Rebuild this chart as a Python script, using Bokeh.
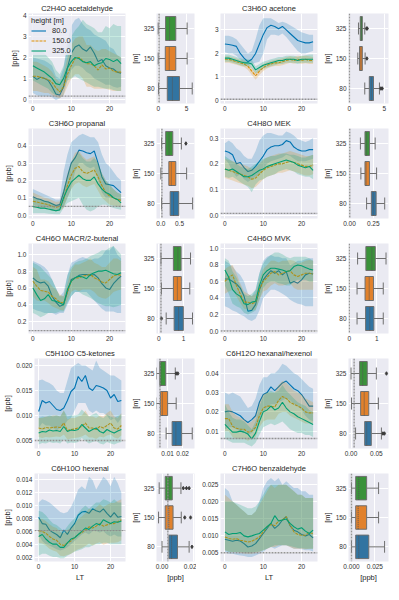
from bokeh.plotting import figure
from bokeh.layouts import column, row
from bokeh.models import Range1d, FixedTicker, Span, Legend, LegendItem, PrintfTickFormatter
from bokeh.embed import file_html
from bokeh.resources import INLINE

# ---------------- data ----------------
hours = list(range(24))
height_labels = ["80.0", "150.0", "325.0"]
box_categories = ["80", "150", "325"]

titles = ["C2H4O acetaldehyde", "C3H6O acetone", "C3H6O propanal", "C4H8O MEK",
          "C4H6O MACR/2-butenal", "C4H6O MVK", "C5H10O C5-ketones", "C6H12O hexanal/hexenol",
          "C6H10O hexenal", "C7H6O benzaldehyde"]

# C2H4O acetaldehyde
acetaldehyde_80 = [1.10,0.95,1.05,1.00,0.90,0.60,0.25,0.20,0.60,1.50,2.20,2.50,2.60,2.40,2.30,2.50,2.20,1.80,1.90,1.60,1.50,1.45,1.30,1.25]
acetaldehyde_80_lo = [0.30,0.20,0.15,0.15,0.15,0.10,-0.05,0.05,0.20,0.90,1.40,1.60,1.60,1.50,1.30,1.20,1.00,0.90,0.80,0.70,0.70,0.60,0.55,0.60]
acetaldehyde_80_hi = [2.00,1.95,1.90,1.85,1.75,1.60,1.10,1.00,1.50,2.80,3.50,3.80,3.90,3.60,3.40,3.30,3.10,3.00,2.90,2.80,2.50,2.40,2.10,2.00]
acetaldehyde_150 = [1.10,1.10,1.05,1.00,0.95,0.80,0.55,0.35,0.60,1.20,1.60,1.95,2.00,1.85,1.70,1.70,1.60,1.40,1.65,1.45,1.50,1.35,1.30,1.30]
acetaldehyde_150_lo = [0.40,0.40,0.35,0.30,0.30,0.20,0.10,0.05,0.20,0.60,1.00,1.20,1.20,1.00,0.60,0.60,0.50,0.50,0.50,0.50,0.45,0.40,0.40,0.40]
acetaldehyde_150_hi = [1.80,1.80,1.70,1.60,1.50,1.30,1.00,0.80,1.20,2.00,2.60,2.90,3.00,3.00,2.60,2.60,2.40,2.30,2.40,2.40,2.30,2.20,2.10,2.00]
acetaldehyde_325 = [1.60,1.50,1.40,1.30,1.15,1.00,0.75,0.70,1.00,1.50,1.80,2.00,1.95,1.80,1.75,1.80,1.60,1.70,1.75,1.95,1.90,1.80,1.90,1.70]
acetaldehyde_325_lo = [0.90,0.80,0.70,0.60,0.50,0.30,0.20,0.30,0.50,0.90,1.00,1.10,1.00,0.90,0.80,0.70,0.60,0.60,0.55,0.50,0.50,0.45,0.40,0.40]
acetaldehyde_325_hi = [2.30,2.30,2.30,2.20,2.00,1.80,1.40,1.20,1.60,2.40,3.00,3.30,3.50,3.80,3.60,3.50,3.40,3.20,3.20,3.50,3.40,3.60,3.50,3.50]

# C3H6O acetone
acetone_80 = [2.40,2.38,2.35,2.30,2.00,1.80,1.65,1.75,2.00,2.40,2.80,3.10,3.20,3.15,3.05,3.15,3.00,2.85,2.70,2.55,2.50,2.45,2.45,2.50]
acetone_80_lo = [2.05,2.00,2.00,1.90,1.75,1.60,1.50,1.55,1.60,1.65,2.00,2.60,2.80,2.80,2.75,2.85,2.70,2.50,2.30,2.10,2.00,2.00,2.05,2.10]
acetone_80_hi = [2.75,2.75,2.70,2.60,2.40,2.20,2.00,2.10,2.60,3.20,3.50,3.50,3.50,3.40,3.30,3.35,3.30,3.20,3.10,3.00,2.90,2.85,2.80,2.80]
acetone_150 = [1.75,1.75,1.70,1.65,1.60,1.55,1.45,1.25,1.05,1.25,1.40,1.50,1.55,1.60,1.60,1.65,1.70,1.75,1.70,1.75,1.70,1.75,1.70,1.70]
acetone_150_lo = [1.60,1.60,1.56,1.52,1.47,1.42,1.30,1.08,0.88,1.08,1.25,1.36,1.42,1.47,1.47,1.50,1.55,1.60,1.56,1.60,1.55,1.58,1.55,1.55]
acetone_150_hi = [1.88,1.88,1.83,1.78,1.73,1.68,1.58,1.40,1.22,1.40,1.55,1.63,1.68,1.73,1.75,1.80,1.83,1.88,1.85,1.90,1.88,1.90,1.88,1.85]
acetone_325 = [1.80,1.80,1.75,1.70,1.65,1.60,1.60,1.55,1.30,1.40,1.50,1.55,1.60,1.65,1.70,1.70,1.75,1.75,1.75,1.70,1.75,1.75,1.75,1.75]
acetone_325_lo = [1.65,1.65,1.60,1.55,1.50,1.45,1.45,1.38,1.15,1.25,1.35,1.40,1.45,1.50,1.55,1.55,1.60,1.60,1.60,1.55,1.60,1.60,1.60,1.60]
acetone_325_hi = [1.95,1.95,1.90,1.85,1.80,1.75,1.75,1.72,1.45,1.55,1.65,1.70,1.75,1.80,1.85,1.85,1.90,1.90,1.90,1.85,1.90,1.92,1.95,1.95]

# C3H6O propanal
propanal_80 = [0.105,0.095,0.090,0.080,0.075,0.065,0.055,0.060,0.130,0.220,0.300,0.330,0.375,0.370,0.360,0.355,0.370,0.300,0.220,0.180,0.175,0.170,0.150,0.130]
propanal_80_lo = [0.060,0.055,0.050,0.045,0.040,0.030,0.020,0.030,0.050,0.100,0.150,0.250,0.300,0.300,0.280,0.270,0.280,0.200,0.130,0.100,0.100,0.100,0.090,0.080]
propanal_80_hi = [0.150,0.140,0.130,0.120,0.110,0.100,0.090,0.090,0.250,0.350,0.420,0.440,0.460,0.470,0.460,0.450,0.450,0.420,0.350,0.300,0.280,0.250,0.220,0.200]
propanal_150 = [0.080,0.075,0.070,0.065,0.060,0.050,0.045,0.050,0.090,0.170,0.230,0.270,0.280,0.250,0.240,0.250,0.260,0.220,0.170,0.130,0.110,0.100,0.090,0.085]
propanal_150_lo = [0.040,0.040,0.035,0.035,0.030,0.025,0.020,0.025,0.040,0.100,0.150,0.180,0.190,0.170,0.160,0.170,0.180,0.140,0.100,0.080,0.060,0.055,0.050,0.050]
propanal_150_hi = [0.130,0.120,0.110,0.100,0.095,0.085,0.075,0.080,0.150,0.240,0.310,0.360,0.370,0.340,0.320,0.330,0.340,0.300,0.240,0.200,0.170,0.150,0.130,0.120]
propanal_325 = [0.050,0.045,0.040,0.040,0.035,0.030,0.025,0.030,0.100,0.150,0.190,0.210,0.230,0.210,0.200,0.200,0.220,0.180,0.150,0.130,0.120,0.100,0.090,0.070]
propanal_325_lo = [0.010,0.010,0.010,0.010,0.008,0.006,0.005,0.005,0.040,0.070,0.080,0.090,0.100,0.060,0.030,0.020,0.030,0.050,0.060,0.060,0.050,0.040,0.035,0.030]
propanal_325_hi = [0.100,0.095,0.090,0.085,0.080,0.070,0.060,0.060,0.150,0.220,0.300,0.340,0.360,0.330,0.310,0.310,0.330,0.300,0.240,0.200,0.180,0.150,0.130,0.120]

# C4H8O MEK
mek_80 = [0.250,0.245,0.235,0.200,0.205,0.185,0.170,0.175,0.190,0.210,0.230,0.255,0.265,0.270,0.270,0.275,0.290,0.285,0.265,0.255,0.250,0.250,0.255,0.255]
mek_80_lo = [0.220,0.200,0.170,0.150,0.160,0.140,0.130,0.140,0.150,0.160,0.180,0.200,0.210,0.215,0.220,0.225,0.235,0.230,0.220,0.210,0.210,0.210,0.215,0.220]
mek_80_hi = [0.280,0.290,0.280,0.260,0.250,0.230,0.220,0.220,0.250,0.290,0.310,0.320,0.320,0.315,0.310,0.310,0.325,0.320,0.310,0.295,0.290,0.285,0.290,0.300]
mek_150 = [0.180,0.175,0.170,0.165,0.160,0.155,0.150,0.140,0.145,0.160,0.175,0.185,0.190,0.195,0.200,0.200,0.205,0.210,0.205,0.200,0.195,0.190,0.190,0.195]
mek_150_lo = [0.145,0.140,0.135,0.130,0.125,0.120,0.115,0.105,0.110,0.125,0.140,0.150,0.155,0.160,0.165,0.165,0.170,0.175,0.170,0.165,0.160,0.155,0.155,0.160]
mek_150_hi = [0.220,0.215,0.210,0.205,0.200,0.195,0.190,0.180,0.185,0.200,0.215,0.225,0.230,0.235,0.240,0.240,0.245,0.250,0.245,0.240,0.235,0.230,0.230,0.235]
mek_325 = [0.180,0.175,0.180,0.170,0.160,0.150,0.150,0.155,0.165,0.175,0.180,0.190,0.195,0.200,0.205,0.210,0.215,0.210,0.205,0.195,0.190,0.185,0.190,0.175]
mek_325_lo = [0.150,0.145,0.150,0.140,0.130,0.120,0.110,0.090,0.120,0.135,0.140,0.150,0.155,0.160,0.170,0.175,0.180,0.175,0.170,0.160,0.155,0.150,0.150,0.140]
mek_325_hi = [0.230,0.220,0.210,0.200,0.190,0.185,0.180,0.190,0.200,0.210,0.220,0.225,0.230,0.230,0.235,0.240,0.240,0.235,0.235,0.230,0.225,0.225,0.230,0.235]

# C4H6O MACR/2-butenal
macr_80 = [0.72,0.68,0.66,0.67,0.62,0.50,0.43,0.38,0.40,0.55,0.70,0.72,0.75,0.76,0.76,0.75,0.76,0.72,0.65,0.60,0.58,0.65,0.70,0.74]
macr_80_lo = [0.35,0.33,0.32,0.30,0.30,0.30,0.28,0.30,0.30,0.40,0.50,0.55,0.55,0.55,0.55,0.50,0.45,0.40,0.35,0.32,0.32,0.32,0.30,0.30]
macr_80_hi = [0.92,0.90,0.88,0.85,0.80,0.70,0.60,0.50,0.55,0.75,0.90,0.92,0.95,0.97,0.95,0.93,0.95,0.95,0.98,1.05,1.05,1.10,1.00,0.95]
macr_150 = [0.68,0.62,0.57,0.56,0.55,0.50,0.47,0.43,0.42,0.55,0.68,0.72,0.72,0.74,0.75,0.76,0.72,0.70,0.67,0.66,0.70,0.74,0.76,0.75]
macr_150_lo = [0.50,0.45,0.44,0.45,0.42,0.38,0.36,0.34,0.33,0.45,0.55,0.58,0.56,0.58,0.58,0.58,0.55,0.50,0.48,0.47,0.50,0.55,0.57,0.58]
macr_150_hi = [0.85,0.82,0.70,0.70,0.68,0.62,0.58,0.52,0.50,0.65,0.82,0.88,0.88,0.90,0.92,0.95,0.90,0.88,0.85,0.85,0.90,0.95,0.95,0.92]
macr_325 = [0.60,0.52,0.45,0.47,0.52,0.45,0.44,0.42,0.40,0.58,0.68,0.72,0.74,0.73,0.71,0.76,0.78,0.80,0.80,0.81,0.79,0.77,0.76,0.78]
macr_325_lo = [0.30,0.28,0.25,0.27,0.30,0.30,0.30,0.32,0.32,0.42,0.50,0.55,0.55,0.52,0.50,0.48,0.45,0.42,0.40,0.38,0.38,0.37,0.38,0.40]
macr_325_hi = [0.90,0.88,0.85,0.80,0.75,0.70,0.60,0.50,0.50,0.75,0.85,0.90,0.92,0.93,0.95,0.98,1.00,1.02,1.05,1.05,1.08,1.10,1.05,1.00]

# C4H6O MVK
mvk_80 = [0.63,0.63,0.60,0.57,0.52,0.42,0.24,0.25,0.32,0.50,0.62,0.68,0.73,0.70,0.73,0.68,0.72,0.58,0.60,0.58,0.62,0.68,0.70,0.69]
mvk_80_lo = [0.30,0.28,0.25,0.23,0.20,0.18,0.14,0.12,0.15,0.25,0.40,0.45,0.50,0.50,0.48,0.45,0.42,0.38,0.35,0.33,0.32,0.30,0.30,0.30]
mvk_80_hi = [0.85,0.82,0.78,0.72,0.68,0.60,0.45,0.42,0.50,0.70,0.85,0.90,0.92,0.90,0.90,0.88,0.88,0.80,0.82,0.85,0.85,0.87,0.88,0.88]
mvk_150 = [0.60,0.65,0.68,0.55,0.45,0.35,0.35,0.33,0.35,0.50,0.60,0.65,0.70,0.72,0.68,0.70,0.72,0.73,0.68,0.66,0.68,0.70,0.70,0.69]
mvk_150_lo = [0.45,0.48,0.50,0.42,0.34,0.27,0.26,0.25,0.26,0.38,0.48,0.50,0.55,0.58,0.55,0.55,0.56,0.58,0.52,0.50,0.50,0.50,0.50,0.50]
mvk_150_hi = [0.75,0.78,0.80,0.70,0.58,0.48,0.45,0.42,0.45,0.62,0.75,0.80,0.85,0.85,0.83,0.85,0.85,0.86,0.85,0.82,0.83,0.85,0.86,0.85]
mvk_325 = [0.74,0.65,0.50,0.45,0.42,0.33,0.32,0.35,0.36,0.55,0.68,0.73,0.76,0.76,0.75,0.74,0.72,0.73,0.78,0.80,0.79,0.77,0.75,0.74]
mvk_325_lo = [0.55,0.45,0.33,0.30,0.28,0.22,0.20,0.22,0.25,0.38,0.52,0.58,0.60,0.60,0.58,0.57,0.55,0.55,0.60,0.62,0.62,0.62,0.60,0.60]
mvk_325_hi = [0.88,0.85,0.72,0.65,0.55,0.45,0.42,0.45,0.50,0.70,0.82,0.88,0.92,0.95,0.95,0.93,0.90,0.88,0.90,0.90,0.90,0.90,0.88,0.85]

# C5H10O C5-ketones
c5k_80 = [0.0108,0.0130,0.0125,0.0128,0.0120,0.0112,0.0110,0.0115,0.0130,0.0148,0.0155,0.0178,0.0168,0.0180,0.0155,0.0150,0.0160,0.0158,0.0155,0.0150,0.0135,0.0142,0.0128,0.0130]
c5k_80_lo = [0.0075,0.0085,0.0080,0.0080,0.0075,0.0070,0.0075,0.0078,0.0090,0.0095,0.0110,0.0125,0.0125,0.0125,0.0110,0.0105,0.0110,0.0105,0.0105,0.0100,0.0090,0.0095,0.0085,0.0095]
c5k_80_hi = [0.0170,0.0172,0.0168,0.0165,0.0160,0.0150,0.0145,0.0145,0.0170,0.0195,0.0200,0.0205,0.0200,0.0200,0.0195,0.0190,0.0210,0.0195,0.0190,0.0185,0.0180,0.0180,0.0175,0.0170]
c5k_150 = [0.0075,0.0073,0.0076,0.0075,0.0076,0.0077,0.0076,0.0085,0.0070,0.0072,0.0073,0.0075,0.0078,0.0085,0.0075,0.0075,0.0072,0.0078,0.0075,0.0080,0.0085,0.0075,0.0073,0.0080]
c5k_150_lo = [0.0057,0.0055,0.0057,0.0056,0.0057,0.0058,0.0057,0.0062,0.0052,0.0054,0.0055,0.0056,0.0058,0.0062,0.0056,0.0056,0.0053,0.0058,0.0056,0.0060,0.0062,0.0056,0.0054,0.0060]
c5k_150_hi = [0.0095,0.0095,0.0098,0.0098,0.0100,0.0100,0.0098,0.0110,0.0092,0.0095,0.0095,0.0098,0.0100,0.0110,0.0098,0.0098,0.0095,0.0100,0.0098,0.0105,0.0110,0.0098,0.0095,0.0105]
c5k_325 = [0.0065,0.0068,0.0067,0.0071,0.0069,0.0070,0.0068,0.0078,0.0068,0.0071,0.0070,0.0072,0.0082,0.0075,0.0068,0.0072,0.0075,0.0068,0.0065,0.0072,0.0068,0.0065,0.0069,0.0072]
c5k_325_lo = [0.0042,0.0045,0.0044,0.0047,0.0045,0.0046,0.0044,0.0052,0.0044,0.0046,0.0045,0.0047,0.0055,0.0049,0.0044,0.0047,0.0049,0.0044,0.0042,0.0047,0.0044,0.0042,0.0045,0.0047]
c5k_325_hi = [0.0095,0.0098,0.0097,0.0100,0.0098,0.0100,0.0098,0.0110,0.0098,0.0100,0.0100,0.0102,0.0112,0.0105,0.0098,0.0102,0.0105,0.0098,0.0095,0.0102,0.0098,0.0095,0.0099,0.0102]

# C6H12O hexanal/hexenol
hexanal_80 = [0.0200,0.0205,0.0200,0.0190,0.0180,0.0160,0.0145,0.0160,0.0180,0.0250,0.0290,0.0300,0.0330,0.0310,0.0330,0.0350,0.0360,0.0340,0.0320,0.0310,0.0290,0.0260,0.0230,0.0230]
hexanal_80_lo = [0.011,0.012,0.012,0.011,0.010,0.009,0.008,0.009,0.011,0.016,0.020,0.022,0.024,0.024,0.025,0.026,0.027,0.026,0.024,0.023,0.021,0.018,0.016,0.015]
hexanal_80_hi = [0.030,0.029,0.030,0.029,0.028,0.025,0.022,0.023,0.027,0.034,0.038,0.038,0.040,0.040,0.042,0.045,0.044,0.042,0.040,0.039,0.037,0.035,0.033,0.032]
hexanal_150 = [0.0165,0.0165,0.0125,0.0115,0.0110,0.0110,0.0095,0.0100,0.0120,0.0180,0.0220,0.0230,0.0230,0.0225,0.0260,0.0280,0.0270,0.0250,0.0240,0.0230,0.0220,0.0200,0.0195,0.0195]
hexanal_150_lo = [0.010,0.010,0.007,0.006,0.006,0.006,0.005,0.006,0.007,0.012,0.015,0.016,0.016,0.016,0.019,0.020,0.020,0.018,0.017,0.016,0.015,0.014,0.014,0.014]
hexanal_150_hi = [0.024,0.024,0.020,0.018,0.017,0.016,0.014,0.015,0.018,0.025,0.029,0.030,0.030,0.030,0.034,0.036,0.035,0.033,0.031,0.030,0.029,0.027,0.026,0.025]
hexanal_325 = [0.0135,0.0115,0.0095,0.0095,0.0100,0.0095,0.0085,0.0060,0.0090,0.0150,0.0200,0.0210,0.0230,0.0210,0.0220,0.0250,0.0220,0.0200,0.0190,0.0175,0.0165,0.0155,0.0145,0.0135]
hexanal_325_lo = [0.006,0.005,0.004,0.004,0.004,0.004,0.003,0.002,0.004,0.008,0.012,0.013,0.014,0.013,0.014,0.015,0.013,0.011,0.010,0.009,0.009,0.008,0.008,0.007]
hexanal_325_hi = [0.024,0.020,0.017,0.016,0.016,0.015,0.013,0.011,0.015,0.023,0.028,0.030,0.031,0.030,0.031,0.034,0.031,0.029,0.027,0.025,0.024,0.023,0.021,0.020]

# C6H10O hexenal
hexenal_80 = [0.0082,0.0072,0.0071,0.0062,0.0058,0.0055,0.0050,0.0062,0.0055,0.0065,0.0072,0.0085,0.0090,0.0091,0.0088,0.0095,0.0092,0.0090,0.0095,0.0088,0.0082,0.0089,0.0082,0.0083]
hexenal_80_lo = [0.0055,0.0045,0.0040,0.0038,0.0035,0.0032,0.0030,0.0032,0.0035,0.0040,0.0045,0.0050,0.0055,0.0058,0.0055,0.0060,0.0060,0.0058,0.0060,0.0055,0.0052,0.0055,0.0052,0.0052]
hexenal_80_hi = [0.0105,0.0110,0.0108,0.0105,0.0100,0.0095,0.0090,0.0088,0.0090,0.0098,0.0110,0.0125,0.0130,0.0125,0.0145,0.0140,0.0125,0.0135,0.0145,0.0140,0.0130,0.0145,0.0135,0.0120]
hexenal_150 = [0.0061,0.0060,0.0057,0.0052,0.0048,0.0046,0.0040,0.0038,0.0042,0.0045,0.0050,0.0055,0.0058,0.0062,0.0067,0.0065,0.0068,0.0072,0.0068,0.0070,0.0072,0.0072,0.0075,0.0078]
hexenal_150_lo = [0.0042,0.0041,0.0038,0.0033,0.0030,0.0028,0.0022,0.0021,0.0023,0.0025,0.0029,0.0032,0.0034,0.0037,0.0041,0.0038,0.0041,0.0043,0.0039,0.0041,0.0042,0.0042,0.0043,0.0046]
hexenal_150_hi = [0.0080,0.0079,0.0076,0.0071,0.0067,0.0065,0.0059,0.0057,0.0062,0.0066,0.0072,0.0079,0.0083,0.0088,0.0095,0.0093,0.0097,0.0102,0.0098,0.0101,0.0104,0.0104,0.0107,0.0110]
hexenal_325 = [0.0052,0.0055,0.0048,0.0043,0.0040,0.0040,0.0035,0.0035,0.0042,0.0048,0.0050,0.0055,0.0060,0.0065,0.0063,0.0068,0.0072,0.0070,0.0078,0.0075,0.0072,0.0075,0.0074,0.0076]
hexenal_325_lo = [0.0022,0.0025,0.0025,0.0022,0.0020,0.0020,0.0018,0.0018,0.0022,0.0025,0.0028,0.0030,0.0032,0.0035,0.0035,0.0038,0.0040,0.0040,0.0042,0.0042,0.0040,0.0040,0.0040,0.0040]
hexenal_325_hi = [0.0092,0.0090,0.0085,0.0078,0.0072,0.0070,0.0065,0.0060,0.0068,0.0075,0.0080,0.0088,0.0095,0.0100,0.0095,0.0100,0.0105,0.0105,0.0110,0.0108,0.0105,0.0110,0.0105,0.0105]

# C7H6O benzaldehyde
benzaldehyde_80 = [0.0088,0.0085,0.0082,0.0085,0.0083,0.0075,0.0065,0.0068,0.0075,0.0090,0.0105,0.0120,0.0135,0.0120,0.0130,0.0145,0.0155,0.0128,0.0115,0.0110,0.0102,0.0098,0.0102,0.0092]
benzaldehyde_80_lo = [0.0050,0.0045,0.0045,0.0042,0.0040,0.0038,0.0035,0.0035,0.0040,0.0045,0.0050,0.0060,0.0065,0.0060,0.0065,0.0070,0.0070,0.0065,0.0060,0.0060,0.0058,0.0055,0.0055,0.0052]
benzaldehyde_80_hi = [0.024,0.023,0.020,0.019,0.018,0.017,0.016,0.016,0.017,0.020,0.024,0.026,0.027,0.026,0.027,0.025,0.026,0.025,0.024,0.024,0.023,0.023,0.022,0.022]
benzaldehyde_150 = [0.0095,0.0090,0.0088,0.0090,0.0085,0.0083,0.0080,0.0082,0.0088,0.0095,0.0110,0.0125,0.0132,0.0128,0.0142,0.0145,0.0155,0.0130,0.0110,0.0102,0.0100,0.0100,0.0108,0.0105]
benzaldehyde_150_lo = [0.0055,0.0052,0.0050,0.0050,0.0048,0.0046,0.0045,0.0045,0.0048,0.0050,0.0055,0.0060,0.0065,0.0065,0.0070,0.0070,0.0070,0.0065,0.0060,0.0060,0.0060,0.0058,0.0060,0.0060]
benzaldehyde_150_hi = [0.022,0.021,0.020,0.019,0.018,0.017,0.016,0.016,0.017,0.019,0.021,0.023,0.025,0.024,0.025,0.025,0.025,0.024,0.023,0.022,0.022,0.021,0.021,0.021]
benzaldehyde_325 = [0.0110,0.0102,0.0105,0.0105,0.0108,0.0098,0.0095,0.0098,0.0102,0.0105,0.0115,0.0125,0.0135,0.0158,0.0142,0.0145,0.0148,0.0135,0.0125,0.0118,0.0122,0.0112,0.0105,0.0115]
benzaldehyde_325_lo = [0.0055,0.0050,0.0050,0.0050,0.0050,0.0048,0.0048,0.0048,0.0050,0.0052,0.0055,0.0060,0.0065,0.0070,0.0070,0.0070,0.0070,0.0068,0.0065,0.0062,0.0062,0.0060,0.0060,0.0060]
benzaldehyde_325_hi = [0.020,0.020,0.020,0.0195,0.019,0.0185,0.018,0.018,0.0185,0.020,0.022,0.024,0.025,0.025,0.025,0.025,0.025,0.024,0.023,0.022,0.022,0.021,0.021,0.021]

# dashed reference level in each time-series panel and in each box panel
line_reference = [0.15, 0.05, 0.05, 0.008, 0.09, 0.0, 0.005, 0.0062, 0.0061, 0.0048]
box_reference = [0.15, 0.0, 0.03, 0.003, 0.09, 0.0, 0.0049, 0.0061, 0.0037, 0.0]

# box statistics: [whisker low, q1, median, q3, whisker high], order 80, 150, 325
acetaldehyde_box = [[0.05, 1.6, 2.5, 3.75, 6.0], [0.0, 1.25, 1.95, 3.1, 5.1], [0.0, 1.3, 2.0, 3.1, 5.1]]
acetone_box = [[2.2, 2.85, 3.15, 3.45, 4.3], [1.2, 1.45, 1.65, 1.85, 2.25], [1.3, 1.55, 1.7, 1.85, 2.2]]
propanal_box = [[0.02, 0.25, 0.34, 0.48, 0.85], [0.0, 0.215, 0.28, 0.40, 0.69], [0.02, 0.13, 0.22, 0.32, 0.55]]
mek_box = [[0.18, 0.23, 0.25, 0.28, 0.37], [0.12, 0.163, 0.175, 0.21, 0.285], [0.115, 0.163, 0.18, 0.21, 0.27]]
macr_box = [[0.30, 0.62, 0.80, 0.99, 1.36], [0.11, 0.59, 0.75, 0.91, 1.25], [0.09, 0.59, 0.77, 0.90, 1.28]]
mvk_box = [[0.28, 0.59, 0.74, 0.89, 1.23], [0.28, 0.57, 0.72, 0.875, 1.23], [0.30, 0.60, 0.82, 0.94, 1.33]]
c5k_box = [[0.009, 0.013, 0.0155, 0.0194, 0.0264], [0.0024, 0.0053, 0.0065, 0.010, 0.0157], [0.0026, 0.0048, 0.0055, 0.0087, 0.0151]]
hexanal_box = [[0.009, 0.027, 0.031, 0.040, 0.060], [0.001, 0.019, 0.026, 0.035, 0.054], [0.0, 0.017, 0.023, 0.032, 0.050]]
hexenal_box = [[0.0, 0.0044, 0.0061, 0.0098, 0.0172], [-0.0022, 0.002, 0.0043, 0.007, 0.0122], [-0.0018, 0.002, 0.0043, 0.0065, 0.012]]
benzaldehyde_box = [[0.0, 0.0045, 0.0078, 0.0185, 0.0354], [0.0, 0.0045, 0.0071, 0.0162, 0.029], [0.0, 0.0045, 0.0078, 0.0162, 0.029]]

# outliers: (value, category index)
acetaldehyde_out = []
acetone_out = [(4.5, 0), (4.7, 0), (2.5, 1), (2.45, 2), (2.55, 2)]
propanal_out = [(0.67, 2)]
mek_out = []
macr_out = [(0.11, 0)]
mvk_out = []
c5k_out = [(0.0157, 2), (0.0168, 2)]
hexanal_out = [(0.063, 0), (0.066, 0), (0.070, 2)]
hexenal_out = [(0.019, 0), (0.0144, 1), (0.0181, 1), (0.0135, 2), (0.0155, 2), (0.0172, 2)]
benzaldehyde_out = []

# axis ranges, ticks and tick label formats
line_yranges = [(-0.2, 4.1), (-0.13, 3.7), (-0.02, 0.5), (-0.012, 0.337), (0.056, 1.13),
                (-0.03, 1.06), (0.0034, 0.0214), (0.001, 0.0477), (0.0013, 0.015), (0.0022, 0.0283)]
line_yticks = [[0, 1, 2, 3, 4], [0, 1, 2, 3], [0.0, 0.1, 0.2, 0.3, 0.4], [0.0, 0.1, 0.2, 0.3],
               [0.2, 0.4, 0.6, 0.8, 1.0], [0.0, 0.2, 0.4, 0.6, 0.8, 1.0], [0.005, 0.010, 0.015, 0.020],
               [0.01, 0.02, 0.03, 0.04], [0.002, 0.004, 0.006, 0.008, 0.010, 0.012, 0.014],
               [0.005, 0.010, 0.015, 0.020, 0.025]]
line_yformats = ["%.0f", "%.0f", "%.1f", "%.1f", "%.1f", "%.1f", "%.3f", "%.2f", "%.3f", "%.3f"]
hour_ticks = [0, 10, 20]
box_xranges = [(-0.3, 6.4), (-0.13, 5.6), (-0.115, 0.9), (-0.01, 0.41), (-0.09, 1.44),
               (-0.03, 1.42), (0.0026, 0.0279), (-0.005, 0.074), (-0.0035, 0.0206), (-0.0032, 0.0396)]
box_xticks = [[0, 5], [0, 5], [0.0, 0.5], [0.0, 0.25], [0, 1], [0, 1], [0.01, 0.02], [0.0, 0.05], [0.0, 0.02], [0.0, 0.025]]
box_xformats = ["%.0f", "%.0f", "%.1f", "%.2f", "%.0f", "%.0f", "%.2f", "%.2f", "%.2f", "%.3f"]

series = [
    (acetaldehyde_80, acetaldehyde_80_lo, acetaldehyde_80_hi, acetaldehyde_150, acetaldehyde_150_lo, acetaldehyde_150_hi, acetaldehyde_325, acetaldehyde_325_lo, acetaldehyde_325_hi),
    (acetone_80, acetone_80_lo, acetone_80_hi, acetone_150, acetone_150_lo, acetone_150_hi, acetone_325, acetone_325_lo, acetone_325_hi),
    (propanal_80, propanal_80_lo, propanal_80_hi, propanal_150, propanal_150_lo, propanal_150_hi, propanal_325, propanal_325_lo, propanal_325_hi),
    (mek_80, mek_80_lo, mek_80_hi, mek_150, mek_150_lo, mek_150_hi, mek_325, mek_325_lo, mek_325_hi),
    (macr_80, macr_80_lo, macr_80_hi, macr_150, macr_150_lo, macr_150_hi, macr_325, macr_325_lo, macr_325_hi),
    (mvk_80, mvk_80_lo, mvk_80_hi, mvk_150, mvk_150_lo, mvk_150_hi, mvk_325, mvk_325_lo, mvk_325_hi),
    (c5k_80, c5k_80_lo, c5k_80_hi, c5k_150, c5k_150_lo, c5k_150_hi, c5k_325, c5k_325_lo, c5k_325_hi),
    (hexanal_80, hexanal_80_lo, hexanal_80_hi, hexanal_150, hexanal_150_lo, hexanal_150_hi, hexanal_325, hexanal_325_lo, hexanal_325_hi),
    (hexenal_80, hexenal_80_lo, hexenal_80_hi, hexenal_150, hexenal_150_lo, hexenal_150_hi, hexenal_325, hexenal_325_lo, hexenal_325_hi),
    (benzaldehyde_80, benzaldehyde_80_lo, benzaldehyde_80_hi, benzaldehyde_150, benzaldehyde_150_lo, benzaldehyde_150_hi, benzaldehyde_325, benzaldehyde_325_lo, benzaldehyde_325_hi),
]
boxes = [acetaldehyde_box, acetone_box, propanal_box, mek_box, macr_box, mvk_box, c5k_box, hexanal_box, hexenal_box, benzaldehyde_box]
outliers = [acetaldehyde_out, acetone_out, propanal_out, mek_out, macr_out, mvk_out, c5k_out, hexanal_out, hexenal_out, benzaldehyde_out]

# ---------------- style ----------------
FONT = "Liberation Sans"
BG = "#EAEAF2"
TXT = "#333333"
line_colors = ["#0173b2", "#de8f05", "#029e73"]
line_dashes = ["solid", "3 1", "solid"]
box_colors = ["#3274a1", "#e1812c", "#3a923a"]
GRAY = "#6f6f6f"

COL_W = [127, 69, 123, 70]
COL_LEFT = [28, 24, 24, 25]
COL_RIGHT = [2, 2, 2, 1]
ROW_H = [115, 115, 115, 115, 124]
ROW_BOTTOM = [12, 12, 12, 12, 21]
TOP = 12


def base_style(p, title_text):
    p.background_fill_color = BG
    p.border_fill_color = "white"
    p.outline_line_color = None
    p.title.text = title_text
    p.title.text_font = FONT
    p.title.text_font_size = "7.5px"
    p.title.text_font_style = "normal"
    p.title.text_color = "#262626"
    p.title.align = "center"
    p.title.standoff = 2
    for ax in p.axis:
        ax.axis_line_color = None
        ax.major_tick_line_color = None
        ax.minor_tick_line_color = None
        ax.major_tick_out = 0
        ax.major_tick_in = 0
        ax.major_label_text_font = FONT
        ax.major_label_text_font_size = "6.5px"
        ax.major_label_text_color = TXT
        ax.major_label_standoff = 2
        ax.axis_label_text_font = FONT
        ax.axis_label_text_font_size = "7.5px"
        ax.axis_label_text_font_style = "normal"
        ax.axis_label_text_color = "#262626"
        ax.axis_label_standoff = 1
    p.grid.grid_line_color = "white"
    p.grid.grid_line_width = 1


def line_panel(k, col, r):
    s = series[k]
    p = figure(width=COL_W[col], height=ROW_H[r], toolbar_location=None, output_backend="svg",
               x_range=Range1d(-1.15, 24.15), y_range=Range1d(*line_yranges[k]),
               min_border_left=COL_LEFT[col], min_border_right=COL_RIGHT[col],
               min_border_top=TOP, min_border_bottom=ROW_BOTTOM[r])
    base_style(p, titles[k])
    p.xaxis.ticker = FixedTicker(ticks=hour_ticks)
    p.yaxis.ticker = FixedTicker(ticks=line_yticks[k])
    p.yaxis.formatter = PrintfTickFormatter(format=line_yformats[k])
    if col == 0:
        p.yaxis.axis_label = "[ppb]"
    if r == 4:
        p.xaxis.axis_label = "LT"
    rends = []
    for i in range(3):
        mean, lo, hi = s[3 * i], s[3 * i + 1], s[3 * i + 2]
        p.varea(x=hours, y1=lo, y2=hi, fill_color=line_colors[i], fill_alpha=0.22)
        rl = p.line(x=hours, y=mean, line_color=line_colors[i], line_width=1.1, line_dash=line_dashes[i])
        rends.append(rl)
    p.add_layout(Span(location=line_reference[k], dimension="width", line_color="#8a8a8a",
                      line_width=1.4, line_dash="2 1", line_alpha=0.9))
    if k == 0:
        leg = Legend(items=[LegendItem(label=height_labels[i], renderers=[rends[i]]) for i in range(3)],
                     title="height [m]", location="top_left")
        leg.background_fill_color = BG
        leg.background_fill_alpha = 0.8
        leg.border_line_color = None
        leg.title_text_font = FONT
        leg.title_text_font_size = "7.5px"
        leg.title_text_font_style = "normal"
        leg.title_text_color = "#262626"
        leg.title_standoff = 1
        leg.label_text_font = FONT
        leg.label_text_font_size = "7.5px"
        leg.label_text_color = "#262626"
        leg.glyph_width = 15
        leg.glyph_height = 9
        leg.label_height = 9
        leg.label_standoff = 6
        leg.spacing = 1
        leg.padding = 4
        leg.margin = 3
        p.add_layout(leg)
    return p


def box_panel(k, col, r):
    p = figure(width=COL_W[col], height=ROW_H[r], toolbar_location=None, output_backend="svg",
               x_range=Range1d(*box_xranges[k]), y_range=Range1d(-0.5, 2.5),
               min_border_left=COL_LEFT[col], min_border_right=COL_RIGHT[col],
               min_border_top=TOP, min_border_bottom=ROW_BOTTOM[r])
    base_style(p, " ")
    p.xaxis.ticker = FixedTicker(ticks=box_xticks[k])
    p.xaxis.formatter = PrintfTickFormatter(format=box_xformats[k])
    p.yaxis.ticker = FixedTicker(ticks=[0, 1, 2])
    p.yaxis.major_label_overrides = {0: box_categories[0], 1: box_categories[1], 2: box_categories[2]}
    p.yaxis.axis_label = "[m]"
    if r == 4:
        p.xaxis.axis_label = "[ppb]"
    st = boxes[k]
    ys = [0, 1, 2]
    wlo = [b[0] for b in st]
    q1 = [b[1] for b in st]
    med = [b[2] for b in st]
    q3 = [b[3] for b in st]
    whi = [b[4] for b in st]
    p.segment(x0=wlo, y0=ys, x1=q1, y1=ys, line_color=GRAY, line_width=1)
    p.segment(x0=q3, y0=ys, x1=whi, y1=ys, line_color=GRAY, line_width=1)
    cap_lo = [y - 0.2 for y in ys]
    cap_hi = [y + 0.2 for y in ys]
    p.segment(x0=wlo, y0=cap_lo, x1=wlo, y1=cap_hi, line_color=GRAY, line_width=1)
    p.segment(x0=whi, y0=cap_lo, x1=whi, y1=cap_hi, line_color=GRAY, line_width=1)
    p.hbar(y=ys, left=q1, right=q3, height=0.8, fill_color=box_colors, line_color=GRAY, line_width=1)
    box_lo = [y - 0.4 for y in ys]
    box_hi = [y + 0.4 for y in ys]
    p.segment(x0=med, y0=box_lo, x1=med, y1=box_hi, line_color="#555555", line_width=1, line_dash="1 1")
    out = outliers[k]
    if out:
        p.scatter(x=[o[0] for o in out], y=[o[1] for o in out], marker="diamond", size=3.5,
                  fill_color="#3a3a3a", line_color="#3a3a3a")
    p.add_layout(Span(location=box_reference[k], dimension="height", line_color="#8a8a8a",
                      line_width=1.4, line_dash="2 1", line_alpha=0.9))
    return p


rows = []
for r in range(5):
    k1, k2 = 2 * r, 2 * r + 1
    rows.append(row(line_panel(k1, 0, r), box_panel(k1, 1, r), line_panel(k2, 2, r), box_panel(k2, 3, r)))
layout = column(*rows)

open("out.html", "w").write(file_html(layout, INLINE))
